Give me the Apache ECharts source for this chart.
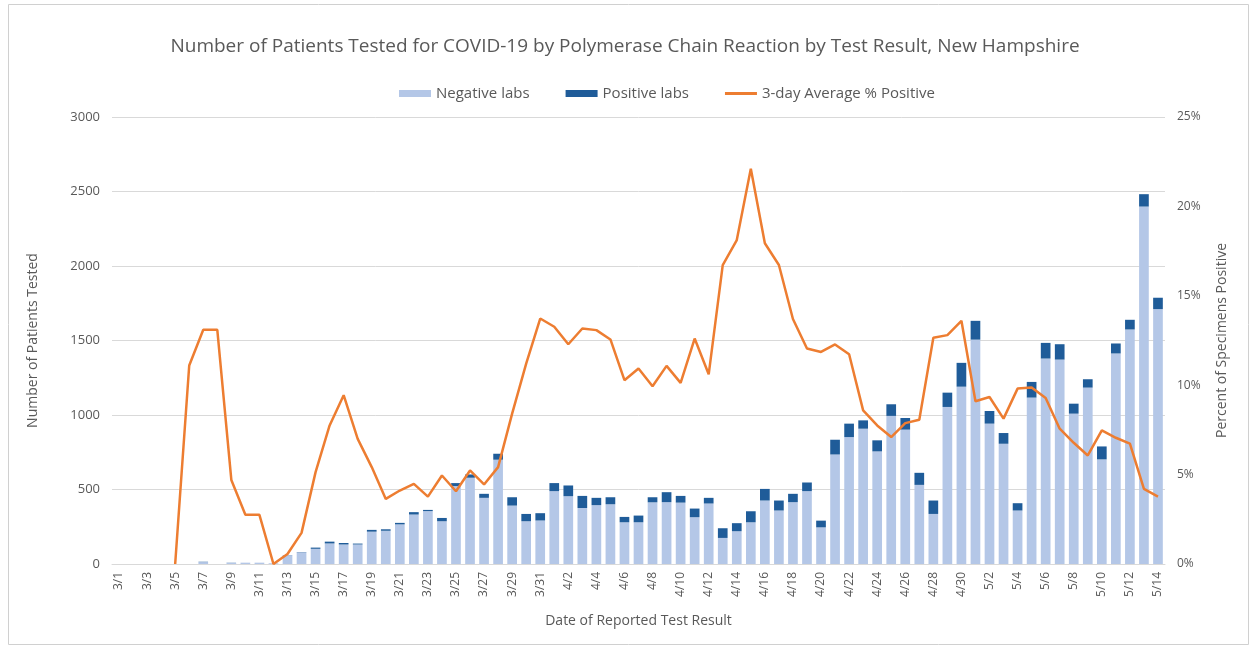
<!DOCTYPE html>
<html>
<head>
<meta charset="utf-8">
<script src="https://cdn.jsdelivr.net/npm/echarts@6/dist/echarts.min.js"></script>
<style>html,body{margin:0;padding:0;background:#fff}#c{width:1250px;height:645px}</style>
</head>
<body>
<div id="c"></div>
<script>
const categories = (function(){
  const out = [];
  for (let d = 1; d <= 31; d++) out.push('3/' + d);
  for (let d = 1; d <= 30; d++) out.push('4/' + d);
  for (let d = 1; d <= 14; d++) out.push('5/' + d);
  return out;
})();

const negativeLabs = [
  0,0,0,0,0,0,13,0,8,9,9,5,59,78,102,138,131,131,217,223,266,332,355,287,523,579,444,700,392,287,292,
  489,455,376,395,401,280,280,414,415,412,314,406,175,220,280,426,359,415,489,246,735,852,908,756,994,902,531,336,1054,1190,
  1506,942,807,359,1117,1379,1372,1009,1184,702,1413,1574,2399,1711
];

const positiveLabs = [
  0,0,0,0,0,0,2,0,1,0,0,0,1,2,8,12,10,6,12,10,10,16,8,22,20,22,27,40,56,49,49,
  54,72,81,49,47,36,45,34,67,45,58,38,65,54,74,78,67,56,58,45,99,90,56,74,78,78,81,90,96,160,
  126,85,72,49,105,105,103,67,56,87,67,65,83,76
];

const avgPctPositive = [
  null,null,null,null,0,11.1,13.1,13.1,4.7,2.75,2.75,0,0.56,1.74,5.14,7.75,9.44,7.0,5.42,3.64,4.11,4.48,3.77,4.95,4.07,5.23,4.45,5.42,8.41,11.21,13.73,
  13.27,12.29,13.17,13.08,12.56,10.28,10.93,9.94,11.08,10.13,12.61,10.61,16.72,18.12,22.1,17.94,16.72,13.7,12.05,11.86,12.28,11.73,8.59,7.75,7.1,7.88,8.07,12.65,12.8,13.6,
  9.1,9.34,8.13,9.81,9.87,9.29,7.57,6.78,6.07,7.47,7.06,6.73,4.2,3.77
];

const leftTicks = { min: 0, max: 3000, interval: 500 };
const rightTicks = { min: 0, max: 25, interval: 5 };

const FONT = 'Open Sans';
const GRAY = '#595959';

const chart = echarts.init(document.getElementById('c'), null, { renderer: 'canvas' });
chart.setOption({
  backgroundColor: '#fff',
  animation: false,
  textStyle: { fontFamily: FONT },
  graphic: [{
    type: 'rect', left: 6, top: 2,
    shape: { width: 1240, height: 640 },
    style: { fill: 'none', stroke: '#d0d0d0', lineWidth: 1 },
    silent: true, z: -10
  }],
  title: {
    text: 'Number of Patients Tested for COVID-19 by Polymerase Chain Reaction by Test Result, New Hampshire',
    left: 'center', top: 32,
    textStyle: { fontFamily: FONT, fontSize: 19, fontWeight: 'normal', color: GRAY }
  },
  legend: {
    top: 81, left: 394,
    itemGap: 36, itemWidth: 32, itemHeight: 7,
    textStyle: { fontFamily: FONT, fontSize: 15, color: GRAY },
    data: [
      { name: 'Negative labs', icon: 'rect' },
      { name: 'Positive labs', icon: 'rect' },
      { name: '3-day Average % Positive', icon: 'path://M0,0 M0,2 L32,2 L32,5 L0,5 Z M32,7' }
    ]
  },
  grid: { left: 112, right: 85, top: 117, bottom: 81 },
  xAxis: {
    type: 'category',
    data: categories,
    name: 'Date of Reported Test Result',
    nameLocation: 'middle', nameGap: 50,
    nameTextStyle: { fontFamily: FONT, fontSize: 14, color: GRAY },
    axisLine: { lineStyle: { color: '#d9d9d9' } },
    axisTick: { show: false },
    axisLabel: { interval: 1, rotate: 90, fontFamily: FONT, fontSize: 12, color: GRAY, margin: 8 }
  },
  yAxis: [{
    type: 'value',
    min: leftTicks.min, max: leftTicks.max, interval: leftTicks.interval,
    name: 'Number of Patients Tested',
    nameLocation: 'middle', nameGap: 72, nameRotate: 90,
    nameTextStyle: { fontFamily: FONT, fontSize: 14, color: GRAY },
    axisLine: { show: false }, axisTick: { show: false },
    axisLabel: { formatter: function (v) { return String(v); }, fontFamily: FONT, fontSize: 13, color: GRAY, margin: 12 },
    splitLine: { lineStyle: { color: '#d9d9d9', width: 1 } }
  }, {
    type: 'value',
    min: rightTicks.min, max: rightTicks.max, interval: rightTicks.interval,
    name: 'Percent of Specimens Positive',
    nameLocation: 'middle', nameGap: 50, nameRotate: 90,
    nameTextStyle: { fontFamily: FONT, fontSize: 14, color: GRAY },
    axisLine: { show: false }, axisTick: { show: false },
    axisLabel: { formatter: '{value}%', fontFamily: FONT, fontSize: 12, color: GRAY, margin: 12 },
    splitLine: { show: false }
  }],
  series: [{
    name: 'Negative labs', type: 'bar', stack: 'tests',
    data: negativeLabs, barCategoryGap: '31%',
    itemStyle: { color: '#B4C7E7' }
  }, {
    name: 'Positive labs', type: 'bar', stack: 'tests',
    data: positiveLabs,
    itemStyle: { color: '#1F5C99' }
  }, {
    name: '3-day Average % Positive', type: 'line', yAxisIndex: 1,
    data: avgPctPositive, showSymbol: false, symbol: 'none',
    lineStyle: { color: '#ED7D31', width: 2.5 },
    itemStyle: { color: '#ED7D31' },
    z: 5
  }]
});
</script>
</body>
</html>
